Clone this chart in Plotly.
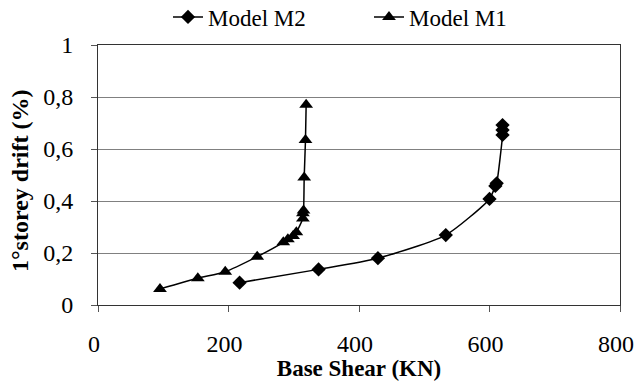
import plotly.graph_objects as go

m2_x = [217, 338, 429, 533, 600, 609, 611, 620, 620, 620]
m2_y = [0.086, 0.137, 0.180, 0.269, 0.408, 0.458, 0.468, 0.654, 0.673, 0.692]

m1_x = [95, 153, 195, 244, 284, 291, 299, 304, 314, 314, 315, 316, 318, 319]
m1_y = [0.062, 0.103, 0.128, 0.186, 0.241, 0.253, 0.265, 0.280, 0.333, 0.353, 0.363, 0.49, 0.635, 0.77]

x_ticks = [0, 200, 400, 600, 800]
y_ticks = [0, 0.2, 0.4, 0.6, 0.8, 1]
y_labels = ["0", "0,2", "0,4", "0,6", "0,8", "1"]

font = "Liberation Serif"

fig = go.Figure()
fig.add_trace(go.Scatter(x=m2_x, y=m2_y, name="Model M2", mode="lines+markers",
                         line=dict(color="black", width=1.5, shape="spline", smoothing=0.6),
                         marker=dict(symbol="diamond", size=11, color="black")))
fig.add_trace(go.Scatter(x=m1_x, y=m1_y, name="Model M1", mode="lines+markers",
                         line=dict(color="black", width=1.5, shape="spline", smoothing=0.6),
                         marker=dict(symbol="triangle-up", size=12, color="black")))

fig.update_layout(
    width=637, height=381,
    margin=dict(l=98, r=17, t=45, b=76),
    paper_bgcolor="white", plot_bgcolor="white",
    font=dict(family=font, color="black"),
    legend=dict(orientation="h", xref="container", yref="container",
                x=168 / 637, xanchor="left", y=1 - 17 / 381, yanchor="middle",
                font=dict(size=23, family=font), entrywidth=156, entrywidthmode="pixels",
                bgcolor="rgba(0,0,0,0)"),
    showlegend=True,
)
fig.add_annotation(text="<b>1°storey drift (%)</b>", textangle=-90, showarrow=False,
                   xref="paper", yref="paper", x=-(98 - 20) / 522, y=(305 - 181) / 260,
                   xanchor="center", yanchor="middle", font=dict(size=24, family=font))
fig.update_xaxes(range=[0, 800], tickvals=x_ticks, ticks="outside", ticklen=6,
                 tickcolor="#555", showgrid=False, showline=True, linecolor="#333",
                 linewidth=1, mirror=True, zeroline=False, automargin=False,
                 ticklabeloverflow="allow", ticklabelshift=-4,
                 tickfont=dict(size=24, family=font), ticklabelstandoff=11,
                 title=dict(text="<b>Base Shear (KN)</b>", font=dict(size=23, family=font), standoff=0))
fig.update_yaxes(range=[0, 1], tickvals=y_ticks, ticktext=y_labels, ticks="outside", ticklen=6,
                 tickcolor="#555", showgrid=True, gridcolor="#808080", gridwidth=1,
                 showline=True, linecolor="#333", linewidth=1, mirror=True, zeroline=False,
                 automargin=False, tickfont=dict(size=24, family=font), ticklabelstandoff=13)

fig.write_html("out.html", config={"displayModeBar": False},
               post_script="document.body.style.margin='0';document.body.style.overflow='hidden';")
